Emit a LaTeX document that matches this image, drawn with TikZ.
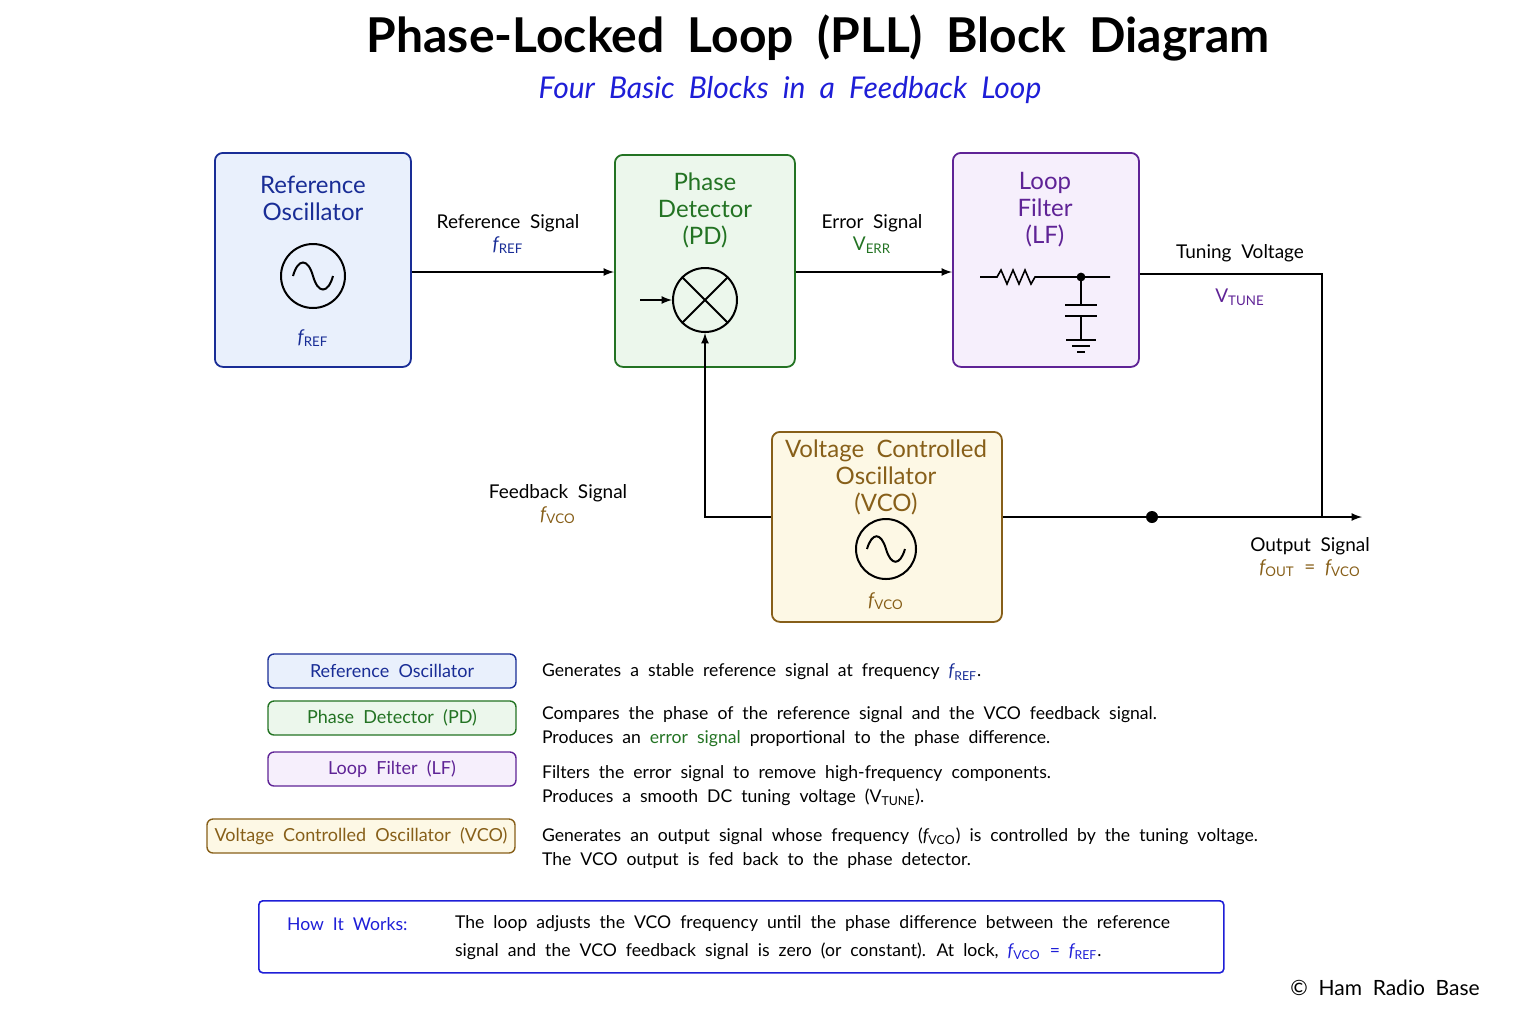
\documentclass[tikz,border=0pt]{standalone}
\usepackage{fontspec}
\setmainfont{Lato}[WordSpace=2]
\usetikzlibrary{positioning}
\definecolor{refblue}{RGB}{25,45,150}
\definecolor{reffill}{RGB}{233,240,252}
\definecolor{pdgreen}{RGB}{35,115,35}
\definecolor{pdfill}{RGB}{236,247,236}
\definecolor{lfpurple}{RGB}{95,35,150}
\definecolor{lffill}{RGB}{246,239,252}
\definecolor{vcobrown}{RGB}{135,95,25}
\definecolor{vcofill}{RGB}{253,248,229}
\definecolor{subblue}{RGB}{30,30,215}
\begin{document}
\begin{tikzpicture}[x=0.5pt,y=-0.5pt]
        \tikzset{block/.style={draw,rounded corners=4pt,line width=0.9pt,align=center,anchor=north west,inner sep=0pt}}
        \tikzset{key/.style={draw,rounded corners=3pt,line width=0.7pt,font=\fontsize{9}{11}\selectfont}}
        \tikzset{sig/.style={draw,line width=0.8pt,-latex}}
        \tikzset{wire/.style={line width=0.8pt}}
        \tikzset{lbl/.style={font=\fontsize{9.5}{12}\selectfont,align=center}}
        \tikzset{desc/.style={font=\fontsize{8.8}{12}\selectfont,anchor=west,align=left}}
        \tikzset{title/.style={font=\fontsize{12}{13.5}\selectfont,align=center}}
        \newcommand{\fsub}[2]{$\textit{f}_{\mathrm{\scriptstyle #2}}$}

        \useasboundingbox (0,0) rectangle (1536,1024);

        % title
        \node[font=\bfseries\fontsize{24}{26}\selectfont] (head) at (818,38) {Phase-Locked Loop (PLL) Block Diagram};
        \node[font=\itshape\fontsize{15}{17}\selectfont,text=subblue] (sub) at (790,90) {Four Basic Blocks in a Feedback Loop};

        % blocks
        \node[block,refblue,fill=reffill,minimum width=98pt,minimum height=107pt] (refosc) at (214,152) {};
        \node[block,pdgreen,fill=pdfill,minimum width=90pt,minimum height=106pt] (pd) at (614,154) {};
        \node[block,lfpurple,fill=lffill,minimum width=93pt,minimum height=107pt] (lf) at (952,152) {};
        \node[block,vcobrown,fill=vcofill,minimum width=115pt,minimum height=95pt] (vco) at (771,431) {};

        \node[title,text=refblue] (refosc-t) at (313,198) {Reference\\Oscillator};
        \node[title,text=pdgreen] (pd-t) at (705,210) {Phase\\Detector\\(PD)};
        \node[title,text=lfpurple] (lf-t) at (1045,210) {Loop\\Filter\\(LF)};
        \node[title,text=vcobrown] (vco-t) at (886,477) {Voltage Controlled\\Oscillator\\(VCO)};

        % oscillator symbols
        \node[draw,circle,line width=1pt,minimum size=32pt] (refsine) at (313,276) {};
        \draw[line width=1pt] (293,276) .. controls (298,258) and (308,258) .. (313,276) .. controls (318,294) and (328,294) .. (333,276);
        \node[lbl,text=refblue] (refosc-f) at (313,338) {\fsub{f}{REF}};
        \node[draw,circle,line width=1pt,minimum size=30pt] (vcosine) at (886,549) {};
        \draw[line width=1pt] (867,549) .. controls (872,532) and (881,532) .. (886,549) .. controls (891,566) and (900,566) .. (905,549);
        \node[lbl,text=vcobrown] (vco-f) at (886,601) {\fsub{f}{VCO}};

        % mixer
        \node[draw,circle,line width=1pt,minimum size=32pt] (mix) at (705,300) {};
        \draw[line width=1pt] (mix.north west) -- (mix.south east) (mix.north east) -- (mix.south west);
        \coordinate (mixin) at (640,300);
        \draw[sig] (mixin) -- (mix.west);

        % loop filter circuit
        \coordinate (rin) at (980,277);
        \coordinate (cnode) at (1081,277);
        \coordinate (rout) at (1110,277);
        \draw[wire] (rin) -- (997,277) -- (1001,270) -- (1007,284) -- (1013,270) -- (1019,284) -- (1025,270) -- (1031,284) -- (1035,277) -- (rout);
        \fill (cnode) circle (2.2pt);
        \draw[wire] (cnode) -- (1081,305) (1065,305) -- (1097,305) (1065,316) -- (1097,316) (1081,316) -- (1081,340);
        \draw[wire] (1066,340) -- (1096,340) (1072,346) -- (1090,346) (1077,352) -- (1085,352);

        % signals
        \draw[sig] (refosc.east |- 0,272) -- (pd.west |- 0,272);
        \node[lbl] (refsig) at (508,234) {Reference Signal\\[-1pt]{\color{refblue}\fsub{f}{REF}}};
        \draw[sig] (pd.east |- 0,272) -- (lf.west |- 0,272);
        \node[lbl] (errsig) at (872,234) {Error Signal\\[-1pt]{\color{pdgreen}V$_{\mathrm{\scriptstyle ERR}}$}};
        \coordinate (corner) at (1322,274);
        \coordinate (tap) at (1152,517);
        \coordinate (outend) at (1362,517);
        \draw[wire] (lf.east |- corner) -- (corner) -- (corner |- outend);
        \node[lbl] (tunesig) at (1240,253) {Tuning Voltage};
        \node[lbl,text=lfpurple] (tunev) at (1240,297) {V$_{\mathrm{\scriptstyle TUNE}}$};
        \draw[sig] (vco.east |- outend) -- (outend);
        \fill (tap) circle (3pt);
        \node[lbl] (outsig) at (1310,557) {Output Signal\\[-1pt]{\color{vcobrown}\fsub{f}{OUT} = \fsub{f}{VCO}}};
        \draw[sig] (vco.west |- outend) -| (mix.south);
        \node[lbl] (fbsig) at (558,504) {Feedback Signal\\[-1pt]{\color{vcobrown}\fsub{f}{VCO}}};

        % legend
        \node[key,refblue,fill=reffill,minimum width=124pt,minimum height=17pt] (k-ref) at (392,671) {Reference Oscillator};
        \node[key,pdgreen,fill=pdfill,minimum width=124pt,minimum height=17pt] (k-pd) at (392,718) {Phase Detector (PD)};
        \node[key,lfpurple,fill=lffill,minimum width=124pt,minimum height=17pt] (k-lf) at (392,769) {Loop Filter (LF)};
        \node[key,vcobrown,fill=vcofill,minimum width=154pt,minimum height=17pt] (k-vco) at (361,836) {Voltage Controlled Oscillator (VCO)};

        \node[desc] (d-ref) at (535,672) {Generates a stable reference signal at frequency {\color{refblue}\fsub{f}{REF}}.};
        \node[desc] (d-pd) at (535,727) {Compares the phase of the reference signal and the VCO feedback signal.\\Produces an {\color{pdgreen}error signal} proportional to the phase difference.};
        \node[desc] (d-lf) at (535,786) {Filters the error signal to remove high-frequency components.\\Produces a smooth DC tuning voltage (V$_{\mathrm{\scriptstyle TUNE}}$).};
        \node[desc] (d-vco) at (535,848) {Generates an output signal whose frequency (\fsub{f}{VCO}) is controlled by the tuning voltage.\\The VCO output is fed back to the phase detector.};

        % how it works
        \node[draw=subblue,line width=0.8pt,rounded corners=2pt,minimum width=482.5pt,minimum height=36pt,anchor=north west] (how) at (258,900) {};
        \node[desc,text=subblue,anchor=north west] (how-t) at (280,910) {How It Works:};
        \node[desc,anchor=north west,font=\fontsize{8.8}{14}\selectfont] (how-d) at (448,908) {The loop adjusts the VCO frequency until the phase difference between the reference\\signal and the VCO feedback signal is zero (or constant). At lock, {\color{subblue}\fsub{f}{VCO} = \fsub{f}{REF}}.};

        \node[font=\fontsize{10.5}{12}\selectfont] (copy) at (1385,988) {© Ham Radio Base};
    \end{tikzpicture}
\end{document}
